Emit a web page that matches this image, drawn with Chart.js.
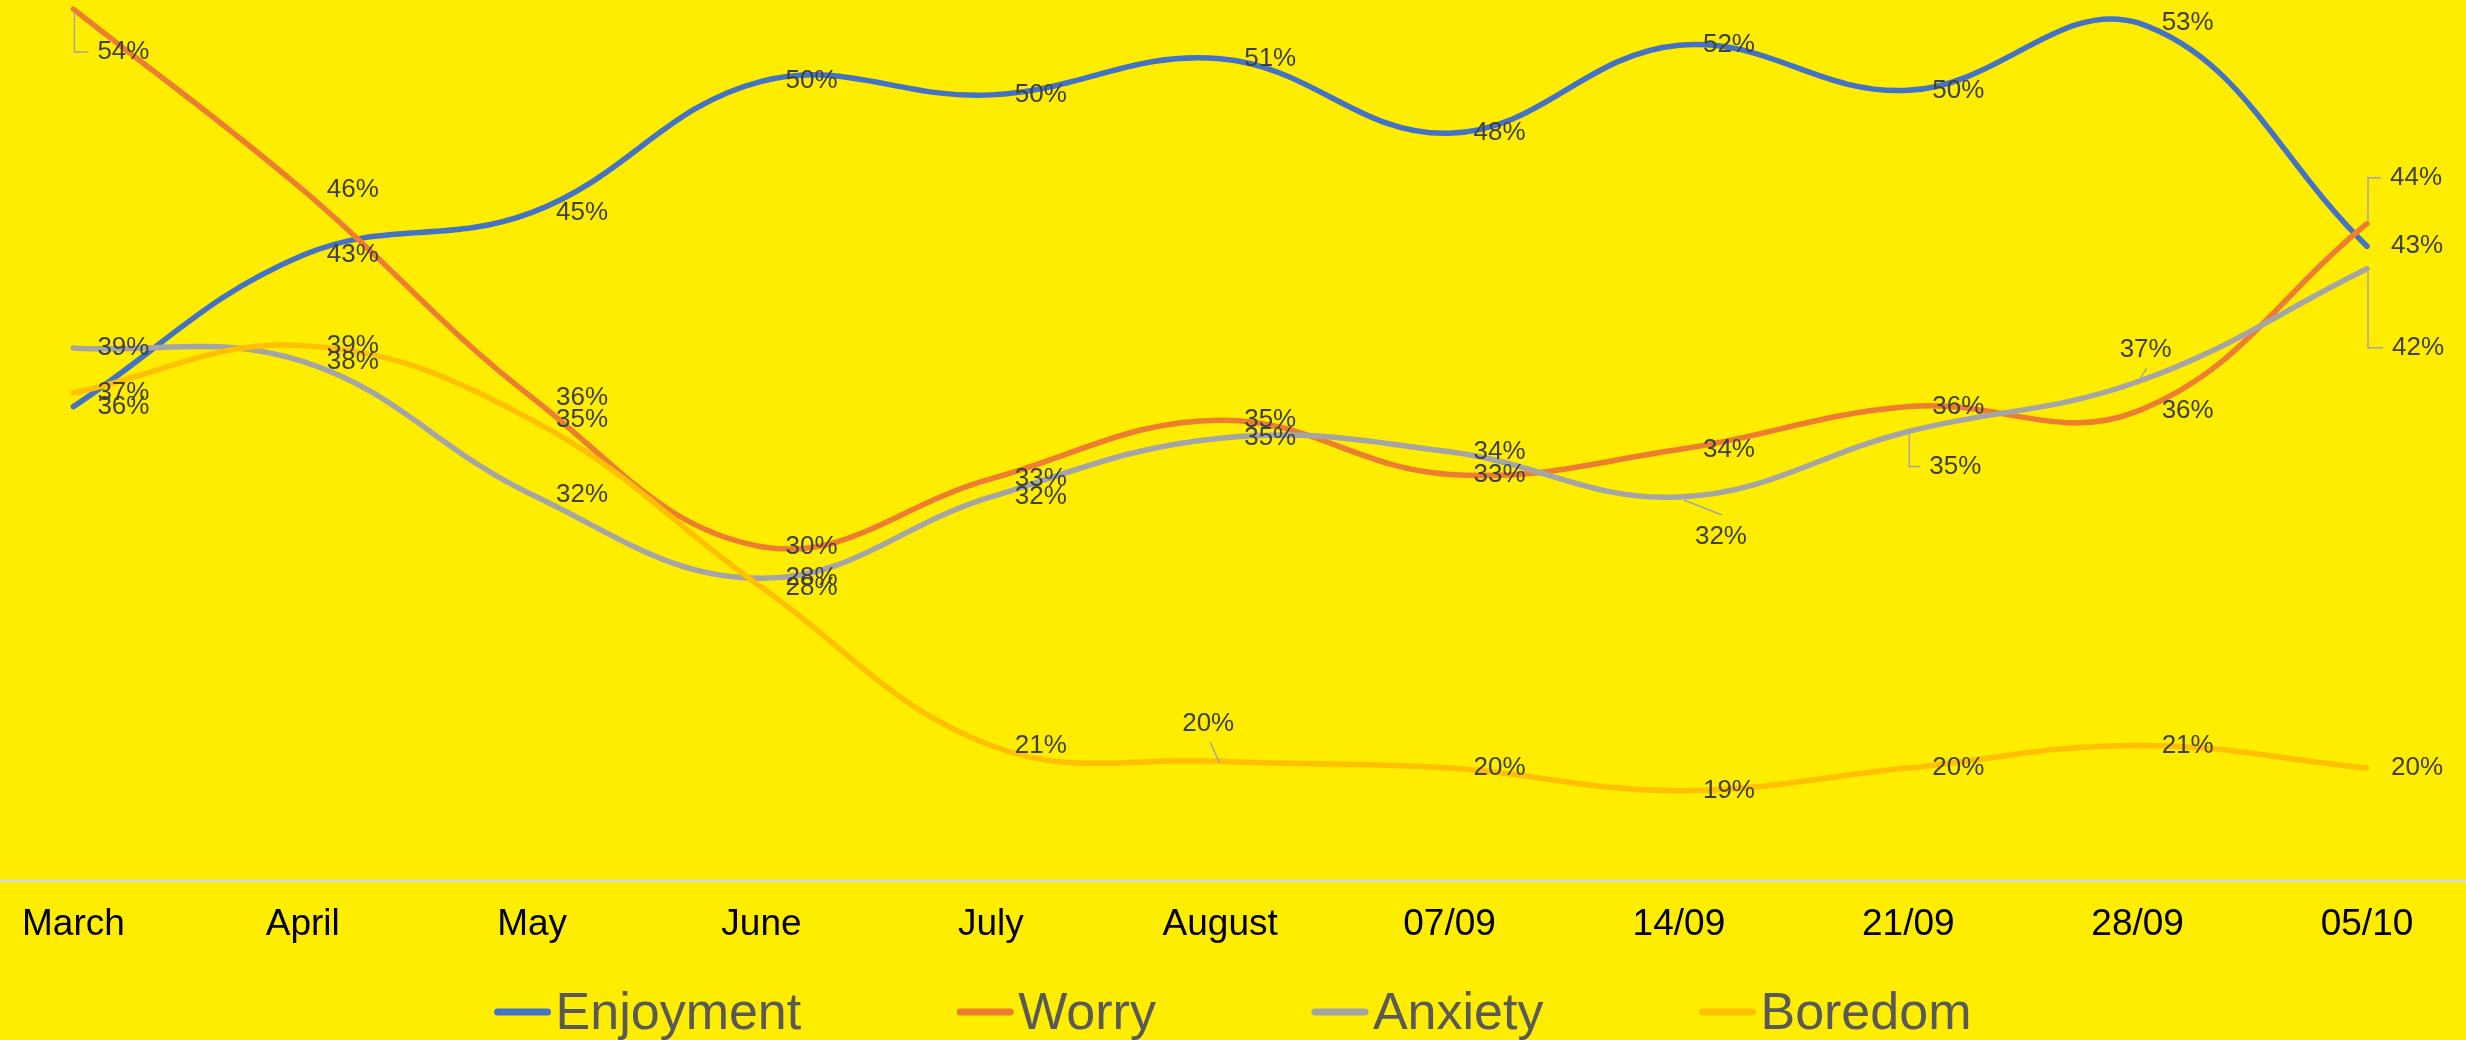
<!DOCTYPE html>
<html>
<head>
<meta charset="utf-8">
<script src="https://cdn.jsdelivr.net/npm/chart.js@4.4.0/dist/chart.umd.min.js"></script>
<style>
  html, body { margin: 0; padding: 0; background: #FFED00; }
  canvas { display: block; }
</style>
</head>
<body>
<canvas id="moodChart" width="2466" height="1040"></canvas>
<script>
// categories
var periods = ['March', 'April', 'May', 'June', 'July', 'August', '07/09', '14/09', '21/09', '28/09', '05/10'];

// series values, in percent
var enjoyment = [36.0, 42.7, 44.6, 50.4, 49.8, 51.4, 48.1, 52.0, 50.0, 53.0, 43.1];
var worry     = [53.6, 45.6, 36.4, 29.8, 32.8, 35.4, 33.0, 34.1, 36.0, 35.8, 44.1];
var anxiety   = [38.6, 38.0, 32.1, 28.4, 32.0, 34.6, 34.0, 32.0, 34.9, 37.1, 42.1];
var boredom   = [36.6, 38.7, 35.4, 28.0, 21.0, 20.3, 20.0, 19.0, 20.0, 21.0, 20.0];

var seriesNames = ['Enjoyment', 'Worry', 'Anxiety', 'Boredom'];
var seriesColors = ['#4472C4', '#ED7D31', '#A5A5A5', '#FFC000'];

var FONT = '"Liberation Sans", Arial, sans-serif';

// labels that Excel moved off their point, with a leader line
// key = dataset:index, dx/dy = label offset from the point
var labelMoves = {
    '1:0':  { dx: 24, dy: 43, leader: 'elbow' },
    '1:10': { dx: 23, dy: -46, leader: 'elbow' },
    '2:10': { dx: 25, dy: 79, leader: 'elbow' },
    '2:8':  { dx: 21, dy: 35, leader: 'elbow' },
    '2:7':  { dx: 16, dy: 40, leader: [5, 3, 43, 18] },
    '2:9':  { dx: -18, dy: -32, leader: [2, -2, 9, -14] },
    '3:5':  { dx: -38, dy: -37, leader: [-1, 1, -10, -19] }
};

// light axis line across the whole width
var baseLine = {
    id: 'baseLine',
    beforeDatasetsDraw: function (chart) {
        var ctx = chart.ctx;
        var y = chart.chartArea.bottom;
        ctx.save();
        ctx.strokeStyle = '#D9D9D9';
        ctx.lineWidth = 2.5;
        ctx.beginPath();
        ctx.moveTo(0, y);
        ctx.lineTo(chart.width, y);
        ctx.stroke();
        ctx.restore();
    }
};

// data labels, right of each point
var pointLabels = {
    id: 'pointLabels',
    afterDatasetsDraw: function (chart) {
        var ctx = chart.ctx;
        ctx.save();
        ctx.font = '26px ' + FONT;
        ctx.textBaseline = 'middle';
        ctx.textAlign = 'left';
        chart.data.datasets.forEach(function (ds, di) {
            chart.getDatasetMeta(di).data.forEach(function (pt, i) {
                var m = labelMoves[di + ':' + i] || { dx: 24, dy: 0 };
                var lx = pt.x + m.dx;
                var ly = pt.y + m.dy;
                if (m.leader) {
                    ctx.strokeStyle = '#A6A6A6';
                    ctx.lineWidth = 1.5;
                    ctx.beginPath();
                    if (m.leader === 'elbow') {
                        ctx.moveTo(pt.x + 1, pt.y + (m.dy > 0 ? 3 : -3));
                        ctx.lineTo(pt.x + 1, ly);
                        ctx.lineTo(lx - 9, ly);
                    } else {
                        ctx.moveTo(pt.x + m.leader[0], pt.y + m.leader[1]);
                        ctx.lineTo(pt.x + m.leader[2], pt.y + m.leader[3]);
                    }
                    ctx.stroke();
                }
                ctx.fillStyle = '#404040';
                ctx.fillText(Math.round(ds.data[i]) + '%', lx, ly);
            });
        });
        ctx.restore();
    }
};

// legend drawn by hand: short line, then the name right after it
var lineLegend = {
    id: 'lineLegend',
    afterDraw: function (chart) {
        var ctx = chart.ctx;
        var markW = 56, markGap = 5, itemGap = 156;
        var y = 1012;
        ctx.save();
        ctx.font = '52px ' + FONT;
        var total = 0;
        var widths = chart.data.datasets.map(function (ds) {
            var w = ctx.measureText(ds.label).width;
            total += markW + markGap + w;
            return w;
        });
        total += itemGap * (widths.length - 1);
        var x = (chart.width - total) / 2;
        chart.data.datasets.forEach(function (ds, i) {
            ctx.strokeStyle = ds.borderColor;
            ctx.lineWidth = 7;
            ctx.lineCap = 'round';
            ctx.beginPath();
            ctx.moveTo(x + 3, y);
            ctx.lineTo(x + markW - 3, y);
            ctx.stroke();
            ctx.fillStyle = '#595959';
            ctx.textBaseline = 'alphabetic';
            ctx.fillText(ds.label, x + markW + markGap, 1029);
            x += markW + markGap + widths[i] + itemGap;
        });
        ctx.restore();
    }
};

var allSeries = [enjoyment, worry, anxiety, boredom];

new Chart(
    document.getElementById('moodChart'),
    {
        type: 'line',
        data: {
            labels: periods,
            datasets: allSeries.map(function (vals, i) {
                return {
                    label: seriesNames[i],
                    data: vals,
                    borderColor: seriesColors[i],
                    backgroundColor: seriesColors[i],
                    borderWidth: 5.5,
                    borderCapStyle: 'round',
                    pointRadius: 0,
                    tension: 0.4,
                    clip: false,
                    order: allSeries.length - 1 - i // later series on top, like Excel
                };
            })
        },
        options: {
            responsive: false,
            animation: false,
            devicePixelRatio: 1,
            layout: {
                padding: { left: 68, right: 99, top: 0, bottom: 0 }
            },
            plugins: {
                legend: { display: false },
                tooltip: { enabled: false }
            },
            scales: {
                x: {
                    offset: false,
                    grid: { display: false, drawTicks: false },
                    border: { display: false },
                    ticks: {
                        color: '#000000',
                        font: { size: 37, family: FONT },
                        padding: 22,
                        autoSkip: false,
                        maxRotation: 0
                    },
                    afterFit: function (scale) {
                        scale.height = 159;
                    }
                },
                y: {
                    display: false,
                    min: 15,
                    max: 54
                }
            }
        },
        plugins: [baseLine, pointLabels, lineLegend]
    }
);
</script>
</body>
</html>
